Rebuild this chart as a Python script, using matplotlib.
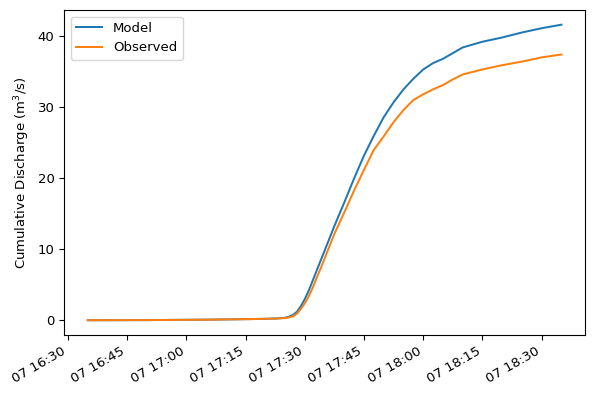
import pandas as pd
import matplotlib
matplotlib.use("Agg")
import matplotlib.pyplot as plt

# minutes after 16:30 on the 7th
minutes = [5, 20, 35, 45, 50, 53, 55, 56, 57, 58, 59, 60, 61, 62, 63, 64, 65,
           66, 67.5, 70, 72.5, 75, 77.5, 80, 82.5, 85, 87.5, 90, 92.5, 95,
           97.5, 100, 105, 110, 115, 120, 125]
model = [0.0, 0.02, 0.08, 0.15, 0.2, 0.25, 0.35, 0.5, 0.75, 1.2, 2.0, 3.0,
         4.2, 5.6, 7.0, 8.4, 9.8, 11.2, 13.3, 16.6, 20.0, 23.2, 26.0, 28.6,
         30.7, 32.5, 34.0, 35.3, 36.2, 36.8, 37.6, 38.4, 39.2, 39.8, 40.5,
         41.1, 41.6]
observed = [0.0, 0.02, 0.08, 0.15, 0.2, 0.25, 0.3, 0.4, 0.55, 0.95, 1.6, 2.4,
            3.4, 4.6, 6.0, 7.3, 8.7, 10.1, 12.2, 15.2, 18.3, 21.2, 24.0,
            25.9, 27.9, 29.6, 31.0, 31.8, 32.5, 33.1, 33.9, 34.6, 35.3, 35.9,
            36.4, 37.0, 37.4]

start = pd.Timestamp("2021-07-07 16:30")
times = [start + pd.Timedelta(minutes=m) for m in minutes]

plt.rcParams["font.size"] = 9.6
plt.rcParams["lines.linewidth"] = 1.45

fig, ax = plt.subplots(figsize=(6, 4), dpi=99)
ax.plot(times, model, label="Model")
ax.plot(times, observed, label="Observed")
ax.set_ylabel("Cumulative Discharge (m$^3$/s)")
ax.legend(loc="upper left")
fig.autofmt_xdate()
fig.subplots_adjust(left=0.108, right=0.985, top=0.975, bottom=0.154)
fig.savefig("out.png")
